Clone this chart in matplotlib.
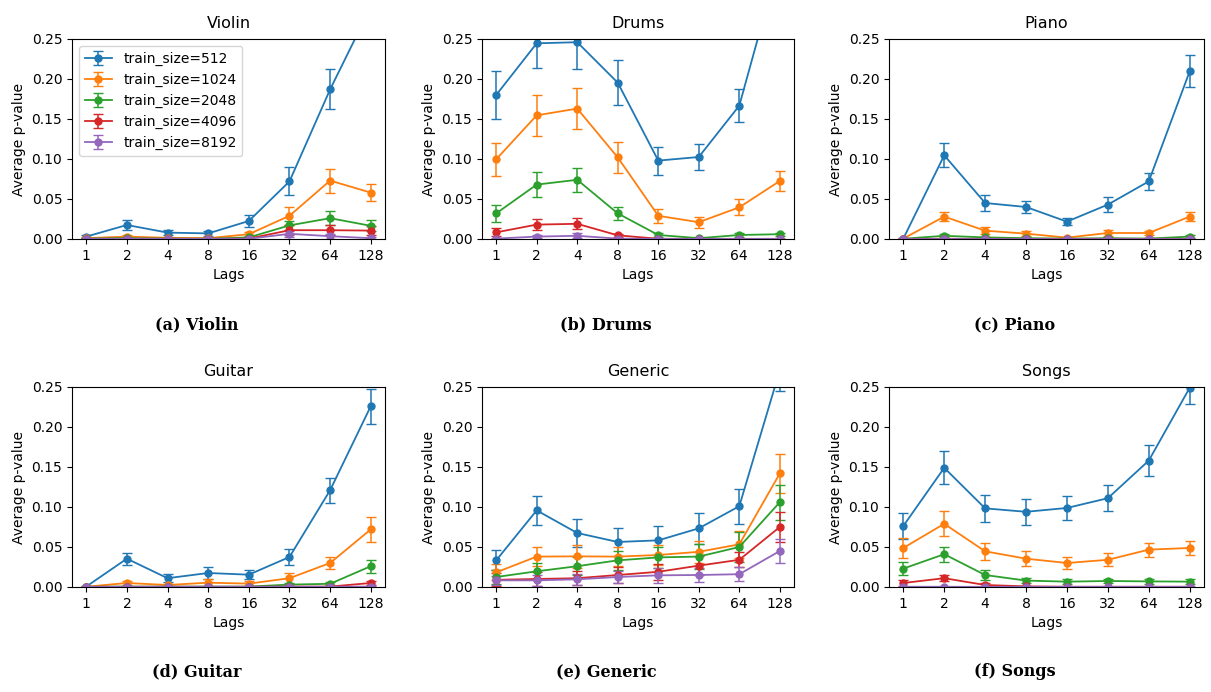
import matplotlib
matplotlib.use("Agg")
import matplotlib.pyplot as plt
import numpy as np

lags = ["1", "2", "4", "8", "16", "32", "64", "128"]
sizes = [512, 1024, 2048, 4096, 8192]
titles = ["Violin", "Drums", "Piano", "Guitar", "Generic", "Songs"]
captions = ["(a) Violin", "(b) Drums", "(c) Piano", "(d) Guitar", "(e) Generic", "(f) Songs"]

violin_mean = [
    [0.003, 0.0175, 0.008, 0.007, 0.0225, 0.072, 0.187, 0.29],
    [0.001, 0.003, 0.0015, 0.001, 0.006, 0.029, 0.073, 0.058],
    [0.0005, 0.001, 0.0005, 0.0003, 0.002, 0.017, 0.026, 0.0165],
    [0.0003, 0.0003, 0.0003, 0.0003, 0.0005, 0.011, 0.011, 0.0105],
    [0.0002, 0.0002, 0.0002, 0.0002, 0.0003, 0.0065, 0.0035, 0.001],
]
violin_err = [
    [0.002, 0.006, 0.003, 0.003, 0.007, 0.0175, 0.025, 0.03],
    [0.001, 0.002, 0.001, 0.001, 0.003, 0.011, 0.015, 0.011],
    [0.0005, 0.001, 0.0005, 0.0005, 0.002, 0.006, 0.009, 0.007],
    [0.0003, 0.0003, 0.0003, 0.0003, 0.001, 0.006, 0.006, 0.006],
    [0.0002, 0.0002, 0.0002, 0.0002, 0.001, 0.004, 0.003, 0.002],
]

drums_mean = [
    [0.18, 0.2446, 0.246, 0.1954, 0.098, 0.1025, 0.1667, 0.35],
    [0.0996, 0.1546, 0.163, 0.102, 0.029, 0.021, 0.0396, 0.0725],
    [0.032, 0.068, 0.074, 0.032, 0.005, 0.001, 0.005, 0.006],
    [0.0083, 0.018, 0.019, 0.0046, 0.0003, 0.0002, 0.0002, 0.0002],
    [0.0005, 0.003, 0.004, 0.0005, 0.0001, 0.0001, 0.0001, 0.0001],
]
drums_err = [
    [0.03, 0.031, 0.033, 0.028, 0.0175, 0.016, 0.0205, 0.03],
    [0.0206, 0.0256, 0.0256, 0.019, 0.009, 0.007, 0.01, 0.013],
    [0.011, 0.0155, 0.015, 0.008, 0.002, 0.001, 0.002, 0.002],
    [0.005, 0.007, 0.007, 0.002, 0.0003, 0.0002, 0.0002, 0.0002],
    [0.001, 0.002, 0.003, 0.001, 0.0001, 0.0001, 0.0001, 0.0001],
]

piano_mean = [
    [0.0005, 0.1046, 0.045, 0.040, 0.0217, 0.043, 0.072, 0.2096],
    [0.0005, 0.028, 0.0104, 0.0067, 0.0017, 0.0075, 0.0075, 0.028],
    [0.0003, 0.004, 0.002, 0.001, 0.0005, 0.001, 0.0005, 0.003],
    [0.0002, 0.0003, 0.0002, 0.0002, 0.0002, 0.0002, 0.0002, 0.0002],
    [0.0001, 0.0001, 0.0001, 0.0001, 0.0001, 0.0001, 0.0001, 0.0001],
]
piano_err = [
    [0.001, 0.015, 0.01, 0.008, 0.0045, 0.009, 0.011, 0.02],
    [0.0005, 0.006, 0.004, 0.003, 0.001, 0.004, 0.003, 0.006],
    [0.0003, 0.002, 0.001, 0.001, 0.0005, 0.001, 0.0005, 0.002],
    [0.0002, 0.0003, 0.0002, 0.0002, 0.0002, 0.0002, 0.0002, 0.0002],
    [0.0001, 0.0001, 0.0001, 0.0001, 0.0001, 0.0001, 0.0001, 0.0001],
]

guitar_mean = [
    [0.0005, 0.0354, 0.011, 0.0175, 0.0154, 0.0375, 0.121, 0.226],
    [0.0003, 0.005, 0.0025, 0.0054, 0.0042, 0.011, 0.030, 0.072],
    [0.0003, 0.0005, 0.0005, 0.0005, 0.0005, 0.003, 0.004, 0.026],
    [0.0002, 0.0003, 0.0003, 0.0003, 0.0003, 0.0005, 0.0005, 0.005],
    [0.0002, 0.0002, 0.0002, 0.0002, 0.0002, 0.0003, 0.0003, 0.0005],
]
guitar_err = [
    [0.001, 0.0075, 0.005, 0.0075, 0.006, 0.0104, 0.0156, 0.0219],
    [0.0003, 0.002, 0.001, 0.004, 0.003, 0.007, 0.0075, 0.0156],
    [0.0003, 0.0005, 0.0005, 0.0005, 0.0005, 0.0015, 0.002, 0.0083],
    [0.0002, 0.0003, 0.0003, 0.0003, 0.0003, 0.0005, 0.0005, 0.0025],
    [0.0002, 0.0002, 0.0002, 0.0002, 0.0002, 0.0003, 0.0003, 0.0005],
]

generic_mean = [
    [0.0333, 0.0958, 0.0675, 0.0563, 0.0583, 0.0733, 0.101, 0.271],
    [0.0183, 0.038, 0.0383, 0.038, 0.040, 0.044, 0.0533, 0.142],
    [0.0125, 0.0196, 0.026, 0.0333, 0.037, 0.038, 0.050, 0.106],
    [0.009, 0.010, 0.011, 0.015, 0.019, 0.0267, 0.034, 0.075],
    [0.0083, 0.0083, 0.0096, 0.0125, 0.0146, 0.015, 0.016, 0.045],
]
generic_err = [
    [0.0125, 0.018, 0.018, 0.018, 0.018, 0.019, 0.022, 0.026],
    [0.010, 0.012, 0.0145, 0.012, 0.012, 0.014, 0.017, 0.024],
    [0.009, 0.010, 0.011, 0.012, 0.013, 0.0155, 0.019, 0.022],
    [0.008, 0.009, 0.009, 0.010, 0.010, 0.012, 0.0096, 0.019],
    [0.006, 0.007, 0.007, 0.008, 0.009, 0.009, 0.009, 0.0145],
]

songs_mean = [
    [0.0763, 0.149, 0.0983, 0.094, 0.0988, 0.111, 0.158, 0.249],
    [0.0488, 0.079, 0.0446, 0.0354, 0.030, 0.034, 0.0467, 0.0488],
    [0.023, 0.041, 0.015, 0.008, 0.0067, 0.0075, 0.007, 0.0067],
    [0.005, 0.011, 0.0025, 0.0008, 0.0003, 0.0003, 0.0003, 0.0003],
    [0.0003, 0.0003, 0.0002, 0.0002, 0.0002, 0.0002, 0.0002, 0.0002],
]
songs_err = [
    [0.0167, 0.0206, 0.0167, 0.016, 0.015, 0.016, 0.019, 0.02],
    [0.0125, 0.0154, 0.011, 0.009, 0.007, 0.008, 0.0088, 0.0085],
    [0.008, 0.0096, 0.006, 0.003, 0.003, 0.003, 0.003, 0.003],
    [0.004, 0.004, 0.002, 0.0008, 0.0003, 0.0003, 0.0003, 0.0003],
    [0.0003, 0.0003, 0.0002, 0.0002, 0.0002, 0.0002, 0.0002, 0.0002],
]

means = [violin_mean, drums_mean, piano_mean, guitar_mean, generic_mean, songs_mean]
errs = [violin_err, drums_err, piano_err, guitar_err, generic_err, songs_err]

colors = ["#1f77b4", "#ff7f0e", "#2ca02c", "#d62728", "#9467bd"]

W, H = 1211, 692
fig = plt.figure(figsize=(W / 100, H / 100), dpi=100)

# axes boxes in pixels: (left, right, top, bottom)
cols = [(72, 385), (482, 794), (889, 1204)]
rows = [(39, 239), (387, 587)]
cap_x = [197, 606, 1015]
cap_y = [325, 672]

x = np.arange(len(lags))
for i in range(6):
    r, c = divmod(i, 3)
    l, rt = cols[c]
    t, b = rows[r]
    ax = fig.add_axes([l / W, 1 - b / H, (rt - l) / W, (b - t) / H])
    for k, s in enumerate(sizes):
        ax.errorbar(x, means[i][k], yerr=errs[i][k], color=colors[k], marker="o",
                    markersize=5, capsize=3.5, linewidth=1.3, elinewidth=1.1,
                    label=f"train_size={s}")
    ax.set_ylim(0, 0.25)
    ax.set_xticks(x)
    ax.set_xticklabels(lags)
    ax.set_yticks([0, 0.05, 0.10, 0.15, 0.20, 0.25])
    ax.set_yticklabels(["0.00", "0.05", "0.10", "0.15", "0.20", "0.25"])
    ax.tick_params(labelsize=10)
    ax.set_xlabel("Lags", fontsize=10)
    ax.set_ylabel("Average p-value", fontsize=10)
    ax.set_title(titles[i], fontsize=11.5, pad=8)
    if i == 0:
        ax.legend(loc="upper left", fontsize=10)
    fig.text(cap_x[c] / W, 1 - cap_y[r] / H, captions[i],
             ha="center", va="center", fontsize=11.5, fontweight="bold",
             family="DejaVu Serif")

fig.savefig("out.png", dpi=100)
